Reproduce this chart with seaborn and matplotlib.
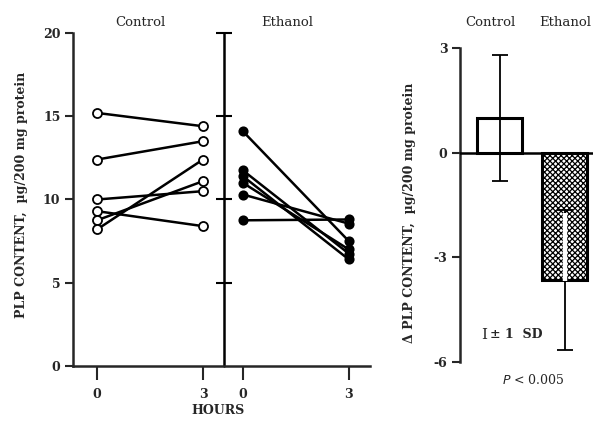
import numpy as np
import pandas as pd
import matplotlib
matplotlib.use("Agg")
import matplotlib.pyplot as plt
import seaborn as sns

# values
hours = [0, 3]
control_0h = [15.2, 12.4, 10.0, 9.3, 8.75, 8.2]
control_3h = [14.4, 13.5, 10.5, 8.4, 11.1, 12.4]
ethanol_0h = [14.1, 11.75, 11.4, 11.0, 10.3, 8.75]
ethanol_3h = [7.5, 6.75, 6.4, 7.0, 8.55, 8.8]

groups = ["Control", "Ethanol"]
delta_mean = [1.0, -3.65]
delta_sd = [1.8, 2.0]

left_ticks = [0, 5, 10, 15, 20]
right_ticks = [-6, -3, 0, 3]

sns.set_style("ticks")
plt.rcParams["font.family"] = ["DejaVu Serif", "DejaVu Sans"]
plt.rcParams["hatch.linewidth"] = 0.9

W, H = 593, 424
fig = plt.figure(figsize=(W / 100, H / 100), dpi=100)


def fx(px):
    return px / W


def fy(py):
    return 1 - py / H


def long_df(before, after, offset):
    rows = []
    for i, (a, b) in enumerate(zip(before, after)):
        rows.append({"rat": i, "x": hours[0] + offset, "val": a})
        rows.append({"rat": i, "x": hours[1] + offset, "val": b})
    return pd.DataFrame(rows)


eth_offset = 4.13
divider_x = 3.6

ctrl_df = long_df(control_0h, control_3h, 0)
eth_df = long_df(ethanol_0h, ethanol_3h, eth_offset)

# ---- left panel: individual animals ----
ax = fig.add_axes([fx(73), fy(366), fx(297), 333 / H])
line_kw = dict(units="rat", estimator=None, color="black", lw=1.8,
               marker="o", mec="black", mew=1.3, ax=ax, legend=False)
sns.lineplot(data=ctrl_df, x="x", y="val", mfc="white", ms=6.5, **line_kw)
sns.lineplot(data=eth_df, x="x", y="val", mfc="black", ms=6, **line_kw)

ax.set_xlim(-0.68, 7.73)
ax.set_ylim(0, 20)
ax.set_yticks(left_ticks)
ax.set_yticklabels([str(t) for t in left_ticks], fontweight="bold", fontsize=9)
xt = [hours[0], hours[1], hours[0] + eth_offset, hours[1] + eth_offset]
ax.set_xticks(xt)
ax.set_xticklabels([str(h) for h in hours] * 2, fontweight="bold", fontsize=9)
ax.tick_params(axis="x", direction="out", length=10, width=1.5, pad=6)
ax.tick_params(axis="y", direction="out", length=6, width=1.5, pad=3)
ax.set_xlabel("")
ax.set_ylabel("")
sns.despine(ax=ax)
for s in ["left", "bottom"]:
    ax.spines[s].set_linewidth(1.8)

# divider axis between the groups
ax.plot([divider_x, divider_x], [0, 20], color="black", lw=1.8, clip_on=False)
ax.plot([divider_x] * 4, left_ticks[1:], ls="", marker="_", ms=11, mew=1.5,
        color="black", clip_on=False)

fig.text(fx(22), fy(195), "PLP CONTENT,  \u00b5g/200 mg protein", rotation=90,
         ha="center", va="center", fontsize=9, fontweight="bold")
fig.text(fx(218), fy(410), "HOURS", ha="center", va="center",
         fontsize=9, fontweight="bold")
fig.text(fx(140), fy(22), "Control", ha="center", va="center", fontsize=9.5)
fig.text(fx(287), fy(22), "Ethanol", ha="center", va="center", fontsize=9.5)

# ---- right panel: change in PLP ----
ax2 = fig.add_axes([fx(460), fy(362), fx(133), 314 / H])
bar_df = pd.DataFrame({"group": groups, "delta": delta_mean})
sns.barplot(data=bar_df, x="group", y="delta", color="white", width=0.68,
            edgecolor="black", linewidth=2.2, errorbar=None, ax=ax2)
ax2.patches[1].set_hatch("xxxxxx")

xpos = np.arange(len(groups))
ax2.errorbar(xpos, delta_mean, yerr=delta_sd, fmt="none", ecolor="black",
             elinewidth=1.3, capsize=6, capthick=1.3, zorder=4)
# inside the hatched bar the error bar is drawn in white
top_eth = delta_mean[1] + delta_sd[1]
ax2.vlines(xpos[1], delta_mean[1] - 0.03, top_eth - 0.07, color="white",
           lw=3.2, zorder=5)
ax2.vlines(xpos[1], top_eth - 0.05, delta_mean[1], color="black",
           lw=0.6, zorder=3)
ax2.axhline(0, color="black", lw=1.8, zorder=3)

ax2.set_xlim(-0.608, 1.438)
ax2.set_ylim(-6, 3)
ax2.set_yticks(right_ticks)
ax2.set_yticklabels([str(t) for t in right_ticks], fontweight="bold", fontsize=9)
ax2.set_xticks([])
ax2.set_xlabel("")
ax2.set_ylabel("")
ax2.tick_params(axis="y", direction="out", length=6, width=1.5, pad=3)
sns.despine(ax=ax2, bottom=True)
ax2.spines["left"].set_linewidth(1.8)

fig.text(fx(409), fy(213), "\u0394 PLP CONTENT,  \u00b5g/200 mg protein",
         rotation=90, ha="center", va="center", fontsize=9, fontweight="bold")
fig.text(fx(490), fy(22), "Control", ha="center", va="center", fontsize=9.5)
fig.text(fx(591), fy(22), "Ethanol", ha="right", va="center", fontsize=9.5)
fig.text(fx(484), fy(335), "I", ha="center", va="center", fontsize=11)
fig.text(fx(490), fy(334), "\u00b1 1  SD", ha="left", va="center",
         fontsize=9, fontweight="bold")
fig.text(fx(533), fy(380), "$P$ < 0.005", ha="center", va="center", fontsize=9)

fig.savefig("out.png", dpi=100)
